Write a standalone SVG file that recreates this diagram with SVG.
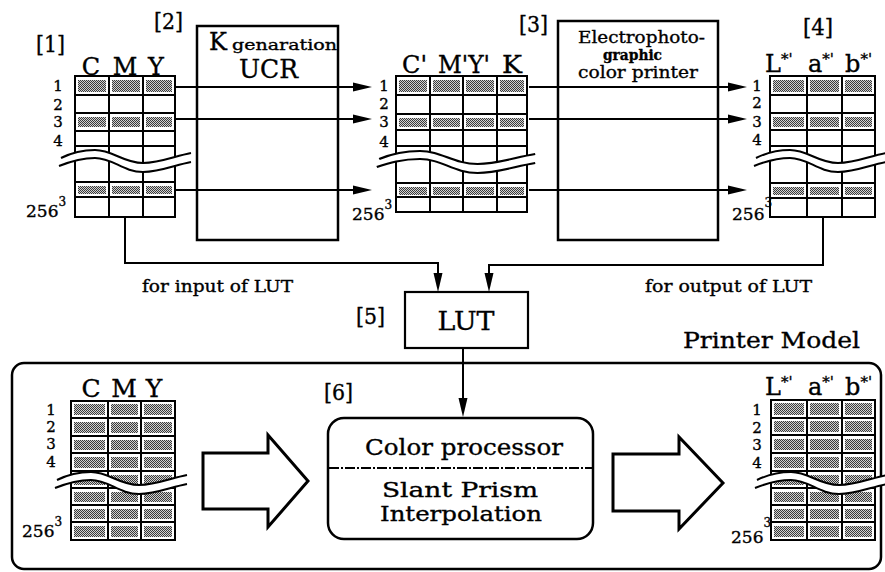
<svg xmlns="http://www.w3.org/2000/svg" xmlns:xlink="http://www.w3.org/1999/xlink" width="885" height="572" viewBox="0 0 885 572">
<style>
text{font-family:"DejaVu Serif","Liberation Serif",serif;fill:#000;stroke:#000;stroke-width:0.35}
.grid{fill:none;stroke:#000;stroke-width:2;stroke-linecap:square}
.sh{fill:url(#dots)}
.conn{fill:none;stroke:#000;stroke-width:2}
.wl{fill:none;stroke:#000;stroke-width:2}
.hollow{fill:#fff;stroke:#000;stroke-width:3;stroke-linejoin:miter}
.lbl{font-size:22px}
.rn{font-size:15px;text-anchor:middle}
.n256{font-size:17px}
.hd{font-size:24px;text-anchor:middle}
</style>
<defs>
<pattern id="dots" width="2" height="2" patternUnits="userSpaceOnUse">
<rect width="2" height="2" fill="#d0d0d0"/>
<rect width="1" height="1" fill="#3a3a3a"/>
<rect x="1" y="1" width="1" height="1" fill="#3a3a3a"/>
</pattern>
<marker id="ah" markerUnits="userSpaceOnUse" markerWidth="20" markerHeight="10" refX="9" refY="5" orient="auto">
<path d="M0,0.5 L19,5 L0,9.5 Z" fill="#000"/>
</marker>
<g id="wave">
<path d="M-14,2 C-6,-2 5,-6 20,-6 C38,-6 48,7 68,7 C85,7 100,0 116,-3 L116,6 C100,9 85,16 68,16 C48,16 38,2 20,2 C5,2 -6,6 -16,10 Z" fill="#fff"/>
<path class="wl" d="M-14,2 C-6,-2 5,-6 20,-6 C38,-6 48,7 68,7 C85,7 100,0 116,-3"/>
<path class="wl" d="M-16,10 C-6,6 5,2 20,2 C38,2 48,16 68,16 C85,16 100,9 116,6"/>
</g>
</defs>
<rect width="885" height="572" fill="#fff"/>

<!-- connectors -->
<g id="connectors">
<path class="conn" d="M176,87 H362" marker-end="url(#ah)"/>
<path class="conn" d="M176,119 H362" marker-end="url(#ah)"/>
<path class="conn" d="M176,190 H362" marker-end="url(#ah)"/>
<path class="conn" d="M529,87 H737" marker-end="url(#ah)"/>
<path class="conn" d="M529,119 H737" marker-end="url(#ah)"/>
<path class="conn" d="M529,190 H737" marker-end="url(#ah)"/>
<path class="conn" d="M125,217 V263 H438 V282" marker-end="url(#ah)"/>
<path class="conn" d="M823,217 V265 H489 V282" marker-end="url(#ah)"/>
<path class="conn" d="M463,348 V407" marker-end="url(#ah)"/>
</g>

<!-- [2] K generation UCR box (lines pass through) -->
<g id="node-kucr">
<rect x="197" y="26" width="141" height="214" fill="none" stroke="#000" stroke-width="2.5"/>
<text x="209" y="50" font-size="24">K</text>
<text x="232" y="50" font-size="15" textLength="105" lengthAdjust="spacingAndGlyphs">genaration</text>
<text x="239" y="78" font-size="26" textLength="59" lengthAdjust="spacingAndGlyphs">UCR</text>
</g>

<!-- [3] printer box -->
<g id="node-printer">
<rect x="558" y="21" width="160" height="219" fill="none" stroke="#000" stroke-width="2.5"/>
<text x="578" y="43" font-size="17" textLength="127" lengthAdjust="spacingAndGlyphs">Electrophoto-</text>
<text x="603" y="60" font-size="14" font-weight="bold" textLength="59" lengthAdjust="spacingAndGlyphs">graphic</text>
<text x="578" y="78" font-size="17" textLength="120" lengthAdjust="spacingAndGlyphs">color printer</text>
</g>

<!-- [1] input CMY table -->
<g id="node-table1">
<rect class="sh" x="78" y="80" width="28" height="12"/><rect class="sh" x="112" y="80" width="28" height="12"/><rect class="sh" x="146" y="80" width="26" height="12"/>
<rect class="sh" x="78" y="117" width="28" height="10"/><rect class="sh" x="112" y="117" width="28" height="10"/><rect class="sh" x="146" y="117" width="26" height="10"/>
<rect class="sh" x="78" y="186" width="28" height="8"/><rect class="sh" x="112" y="186" width="28" height="8"/><rect class="sh" x="146" y="186" width="26" height="8"/>
<path class="grid" d="M75,76 V217 M109,76 V217 M143,76 V217 M175,76 V217 M75,76 H175 M75,95 H175 M75,113 H175 M75,131 H175 M75,146 H175 M75,182 H175 M75,197 H175 M75,217 H175"/>
<use xlink:href="#wave" transform="translate(75,156)"/>
<text class="hd" x="91" y="75">C</text><text class="hd" x="125" y="75">M</text><text class="hd" x="156" y="75">Y</text>
<text class="rn" x="58" y="91">1</text><text class="rn" x="58" y="110">2</text><text class="rn" x="58" y="127">3</text><text class="rn" x="58" y="146">4</text>
<text class="n256" x="26" y="217">256<tspan font-size="12" dy="-11">3</tspan></text>
</g>

<!-- C'M'Y'K table -->
<g id="node-table2">
<rect class="sh" x="399" y="80" width="28" height="12"/><rect class="sh" x="433" y="80" width="27" height="12"/><rect class="sh" x="466" y="80" width="28" height="12"/><rect class="sh" x="500" y="80" width="24" height="12"/>
<rect class="sh" x="399" y="118" width="28" height="9"/><rect class="sh" x="433" y="118" width="27" height="9"/><rect class="sh" x="466" y="118" width="28" height="9"/><rect class="sh" x="500" y="118" width="24" height="9"/>
<rect class="sh" x="399" y="187" width="28" height="8"/><rect class="sh" x="433" y="187" width="27" height="8"/><rect class="sh" x="466" y="187" width="28" height="8"/><rect class="sh" x="500" y="187" width="24" height="8"/>
<path class="grid" d="M396,76 V212 M430,76 V212 M463,76 V212 M497,76 V212 M527,76 V212 M396,76 H527 M396,95 H527 M396,114 H527 M396,130 H527 M396,146 H527 M396,183 H527 M396,197 H527 M396,212 H527"/>
<use xlink:href="#wave" transform="translate(396,157) scale(1.2,1)"/>
<text x="402" y="73" font-size="24" textLength="25" lengthAdjust="spacingAndGlyphs">C'</text>
<text x="438" y="73" font-size="24" textLength="52" lengthAdjust="spacingAndGlyphs">M'Y'</text>
<text x="502" y="73" font-size="24" textLength="20" lengthAdjust="spacingAndGlyphs">K</text>
<text class="rn" x="384" y="91">1</text><text class="rn" x="384" y="109">2</text><text class="rn" x="384" y="127">3</text><text class="rn" x="384" y="147">4</text>
<text class="n256" x="352" y="220">256<tspan font-size="12" dy="-11">3</tspan></text>
</g>

<!-- [4] L*a*b* table -->
<g id="node-table3">
<rect class="sh" x="773" y="80" width="31" height="12"/><rect class="sh" x="810" y="80" width="29" height="12"/><rect class="sh" x="845" y="80" width="27" height="12"/>
<rect class="sh" x="773" y="117" width="31" height="10"/><rect class="sh" x="810" y="117" width="29" height="10"/><rect class="sh" x="845" y="117" width="27" height="10"/>
<rect class="sh" x="773" y="187" width="31" height="8"/><rect class="sh" x="810" y="187" width="29" height="8"/><rect class="sh" x="845" y="187" width="27" height="8"/>
<path class="grid" d="M770,76 V217 M807,76 V217 M842,76 V217 M875,76 V217 M770,76 H875 M770,95 H875 M770,113 H875 M770,130 H875 M770,146 H875 M770,183 H875 M770,198 H875 M770,217 H875"/>
<use xlink:href="#wave" transform="translate(770,156)"/>
<text x="765" y="72" font-size="24">L<tspan font-size="15" dy="-8">*'</tspan></text>
<text x="808" y="72" font-size="24">a<tspan font-size="15" dy="-8">*'</tspan></text>
<text x="845" y="72" font-size="24">b<tspan font-size="15" dy="-8">*'</tspan></text>
<text class="rn" x="757" y="91">1</text><text class="rn" x="757" y="108">2</text><text class="rn" x="757" y="127">3</text><text class="rn" x="757" y="145">4</text>
<text class="n256" x="732" y="220">256<tspan font-size="12" dy="-13">3</tspan></text>
</g>

<!-- [5] LUT -->
<g id="node-lut">
<rect x="405" y="292" width="123" height="56" fill="#fff" stroke="#000" stroke-width="2.2"/>
<text x="466" y="330" font-size="26" text-anchor="middle" textLength="57" lengthAdjust="spacingAndGlyphs">LUT</text>
</g>

<!-- labels -->
<g id="labels">
<text class="lbl" x="36" y="52" textLength="29" lengthAdjust="spacingAndGlyphs">[1]</text>
<text class="lbl" x="154" y="29" textLength="29" lengthAdjust="spacingAndGlyphs">[2]</text>
<text class="lbl" x="519" y="32" textLength="29" lengthAdjust="spacingAndGlyphs">[3]</text>
<text class="lbl" x="803" y="35" textLength="30" lengthAdjust="spacingAndGlyphs">[4]</text>
<text class="lbl" x="356" y="324" textLength="29" lengthAdjust="spacingAndGlyphs">[5]</text>
<text class="lbl" x="324" y="400" textLength="29" lengthAdjust="spacingAndGlyphs">[6]</text>
<text x="142" y="292" font-size="16" textLength="151" lengthAdjust="spacingAndGlyphs">for input of LUT</text>
<text x="645" y="292" font-size="16" textLength="167" lengthAdjust="spacingAndGlyphs">for output of LUT</text>
<text x="683" y="348" font-size="23" textLength="177" lengthAdjust="spacingAndGlyphs">Printer Model</text>
</g>

<!-- Printer model frame -->
<g id="node-model">
<rect x="12" y="363" width="869" height="206" rx="12" ry="12" fill="none" stroke="#000" stroke-width="2.5"/>
</g>

<!-- bottom CMY table -->
<g id="node-table4">
<g>
<rect class="sh" x="74" y="404" width="31" height="11"/><rect class="sh" x="111" y="404" width="27" height="11"/><rect class="sh" x="144" y="404" width="28" height="11"/>
<rect class="sh" x="74" y="422" width="31" height="11"/><rect class="sh" x="111" y="422" width="27" height="11"/><rect class="sh" x="144" y="422" width="28" height="11"/>
<rect class="sh" x="74" y="440" width="31" height="10"/><rect class="sh" x="111" y="440" width="27" height="10"/><rect class="sh" x="144" y="440" width="28" height="10"/>
<rect class="sh" x="74" y="457" width="31" height="11"/><rect class="sh" x="111" y="457" width="27" height="11"/><rect class="sh" x="144" y="457" width="28" height="11"/>
<rect class="sh" x="74" y="475" width="31" height="10"/><rect class="sh" x="111" y="475" width="27" height="10"/><rect class="sh" x="144" y="475" width="28" height="10"/>
<rect class="sh" x="74" y="492" width="31" height="10"/><rect class="sh" x="111" y="492" width="27" height="10"/><rect class="sh" x="144" y="492" width="28" height="10"/>
<rect class="sh" x="74" y="509" width="31" height="10"/><rect class="sh" x="111" y="509" width="27" height="10"/><rect class="sh" x="144" y="509" width="28" height="10"/>
<rect class="sh" x="74" y="526" width="31" height="11"/><rect class="sh" x="111" y="526" width="27" height="11"/><rect class="sh" x="144" y="526" width="28" height="11"/>
</g>
<path class="grid" d="M71,401 V540 M108,401 V540 M141,401 V540 M175,401 V540 M71,401 H175 M71,418 H175 M71,436 H175 M71,453 H175 M71,471 H175 M71,488 H175 M71,505 H175 M71,522 H175 M71,540 H175"/>
<use xlink:href="#wave" transform="translate(71,478)"/>
<text x="91" y="397" font-size="25" text-anchor="middle">C</text><text x="124" y="397" font-size="25" text-anchor="middle">M</text><text x="154" y="397" font-size="25" text-anchor="middle">Y</text>
<text class="rn" x="51" y="415">1</text><text class="rn" x="51" y="432">2</text><text class="rn" x="51" y="449">3</text><text class="rn" x="51" y="467">4</text>
<text class="n256" x="22" y="537">256<tspan font-size="12" dy="-11">3</tspan></text>
</g>

<!-- hollow arrows -->
<g id="node-arrow1">
<polygon class="hollow" points="203,453 268,453 268,435 308,481 268,527 268,509 203,509"/>
</g>
<g id="node-arrow2">
<polygon class="hollow" points="613,454 679,454 679,437 723,483 679,529 679,511 613,511"/>
</g>

<!-- [6] color processor -->
<g id="node-processor">
<rect x="328" y="418" width="265" height="121" rx="16" ry="16" fill="#fff" stroke="#000" stroke-width="2.5"/>
<line x1="329" y1="468" x2="592" y2="468" stroke="#000" stroke-width="2" stroke-dasharray="10,2,2,2"/>
<text x="365" y="455" font-size="23" textLength="198" lengthAdjust="spacingAndGlyphs">Color processor</text>
<text x="382" y="497" font-size="21" textLength="156" lengthAdjust="spacingAndGlyphs">Slant Prism</text>
<text x="380" y="521" font-size="21" textLength="162" lengthAdjust="spacingAndGlyphs">Interpolation</text>
</g>

<!-- bottom L*a*b* table -->
<g id="node-table5">
<g>
<rect class="sh" x="774" y="403" width="30" height="12"/><rect class="sh" x="810" y="403" width="29" height="12"/><rect class="sh" x="845" y="403" width="27" height="12"/>
<rect class="sh" x="774" y="421" width="30" height="11"/><rect class="sh" x="810" y="421" width="29" height="11"/><rect class="sh" x="845" y="421" width="27" height="11"/>
<rect class="sh" x="774" y="439" width="30" height="11"/><rect class="sh" x="810" y="439" width="29" height="11"/><rect class="sh" x="845" y="439" width="27" height="11"/>
<rect class="sh" x="774" y="457" width="30" height="11"/><rect class="sh" x="810" y="457" width="29" height="11"/><rect class="sh" x="845" y="457" width="27" height="11"/>
<rect class="sh" x="774" y="475" width="30" height="10"/><rect class="sh" x="810" y="475" width="29" height="10"/><rect class="sh" x="845" y="475" width="27" height="10"/>
<rect class="sh" x="774" y="492" width="30" height="10"/><rect class="sh" x="810" y="492" width="29" height="10"/><rect class="sh" x="845" y="492" width="27" height="10"/>
<rect class="sh" x="774" y="509" width="30" height="10"/><rect class="sh" x="810" y="509" width="29" height="10"/><rect class="sh" x="845" y="509" width="27" height="10"/>
<rect class="sh" x="774" y="526" width="30" height="11"/><rect class="sh" x="810" y="526" width="29" height="11"/><rect class="sh" x="845" y="526" width="27" height="11"/>
</g>
<path class="grid" d="M771,400 V540 M807,400 V540 M842,400 V540 M875,400 V540 M771,400 H875 M771,418 H875 M771,435 H875 M771,453 H875 M771,471 H875 M771,488 H875 M771,505 H875 M771,522 H875 M771,540 H875"/>
<use xlink:href="#wave" transform="translate(771,478)"/>
<text x="765" y="395" font-size="24">L<tspan font-size="15" dy="-8">*'</tspan></text>
<text x="808" y="395" font-size="24">a<tspan font-size="15" dy="-8">*'</tspan></text>
<text x="845" y="395" font-size="24">b<tspan font-size="15" dy="-8">*'</tspan></text>
<text class="rn" x="757" y="415">1</text><text class="rn" x="757" y="433">2</text><text class="rn" x="757" y="450">3</text><text class="rn" x="757" y="468">4</text>
<text class="n256" x="731" y="543">256<tspan font-size="12" dy="-16">3</tspan></text>
</g>
</svg>
